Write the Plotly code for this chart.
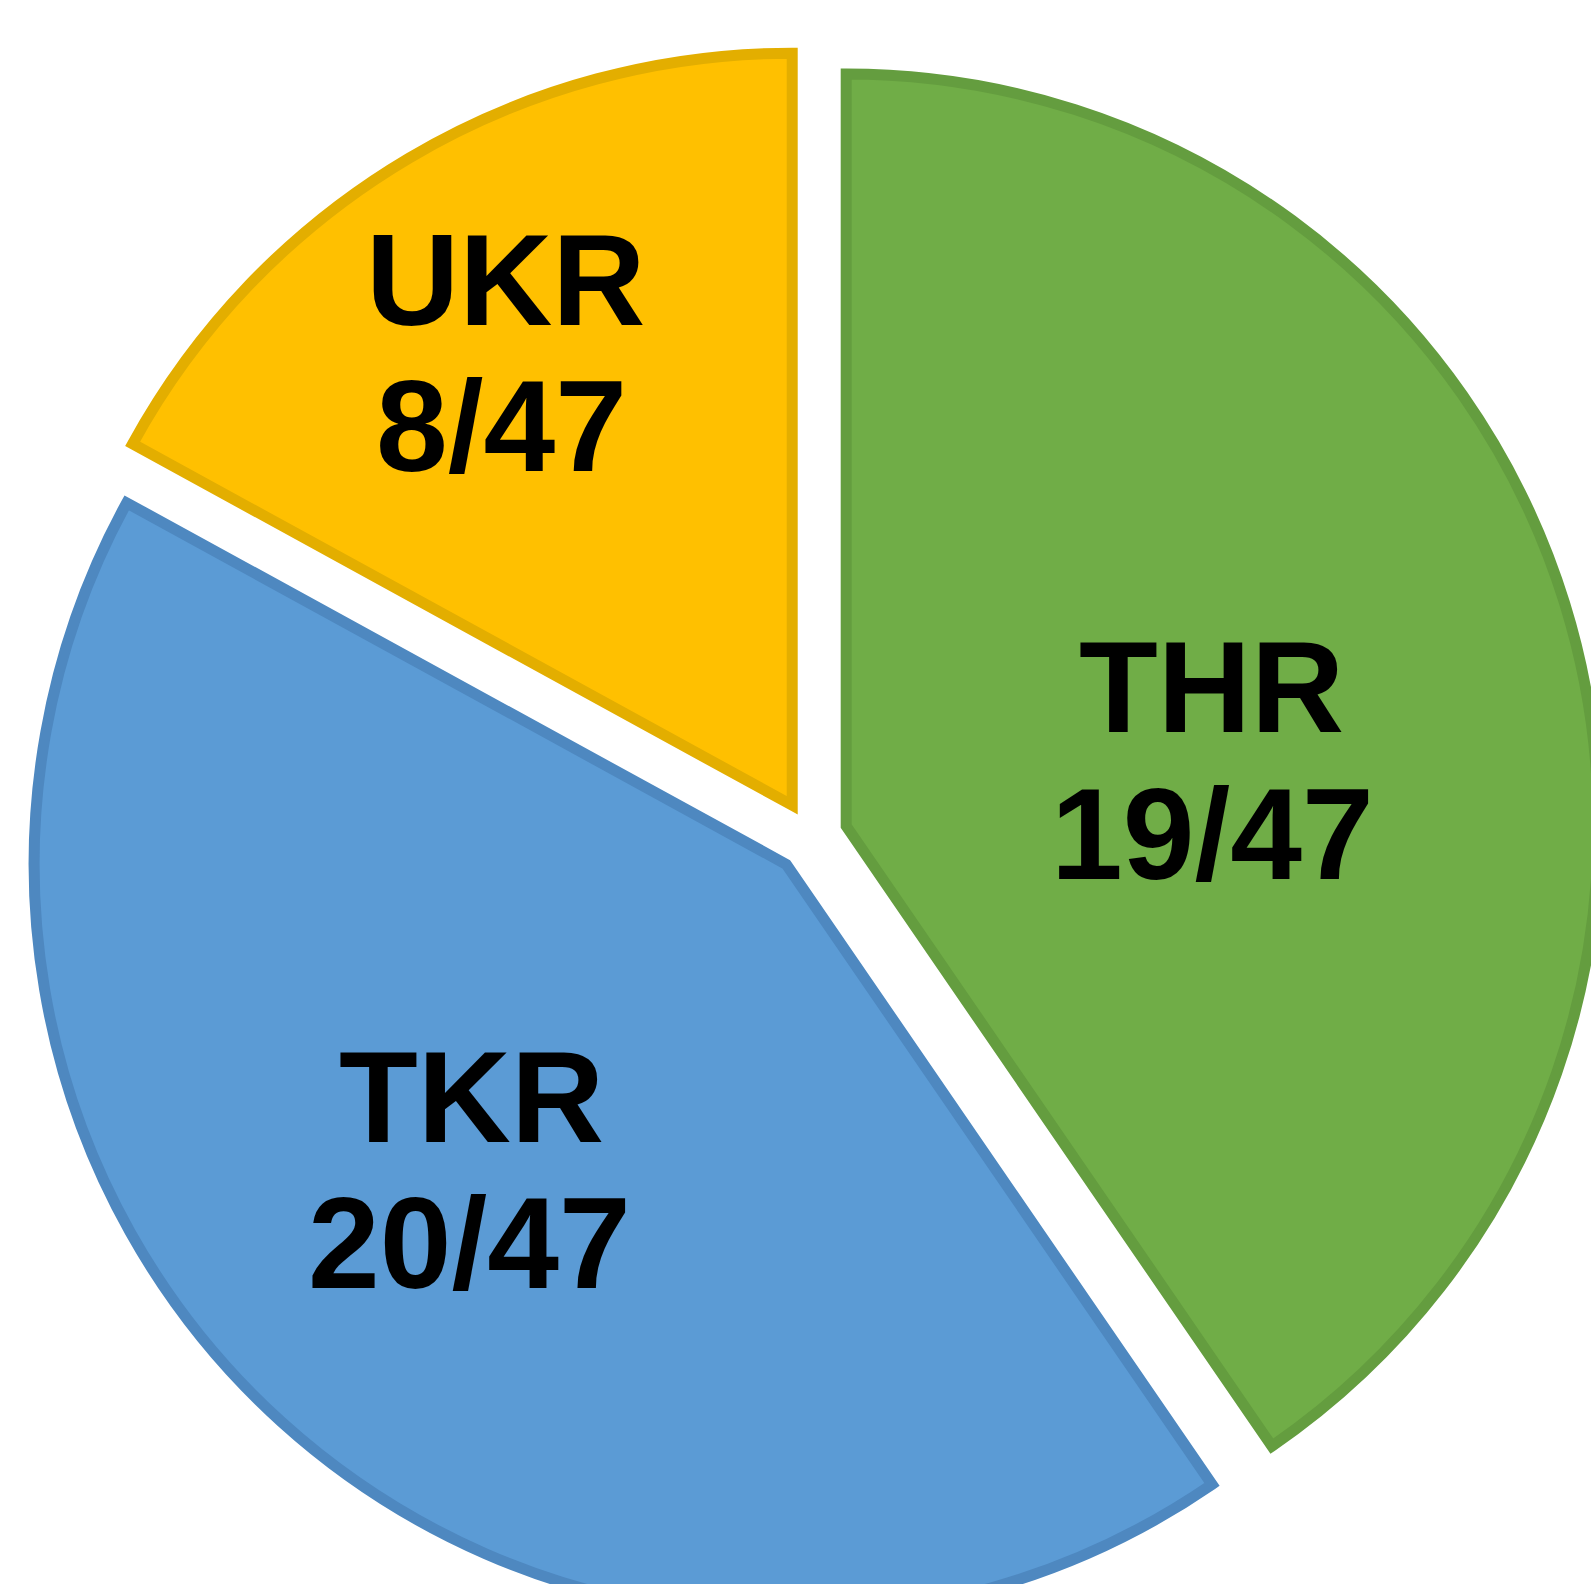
import plotly.graph_objects as go

# ---- data ----
labels = ["THR", "TKR", "UKR"]
values = [19, 20, 8]
total = sum(values)

fill_colors = ["#70AD47", "#5B9BD5", "#FFC000"]
line_colors = ["#649D3F", "#4E88C0", "#E3AE00"]

# label anchor positions (pixel coords of each text line centre: name, fraction)
name_pos = [(1211, 687), (472, 1097), (506, 280)]
frac_pos = [(1212, 834), (470, 1243), (502, 426)]

# ---- layout geometry ----
PULL = 0.049
R = 752
CX, CY = 811, 837
HALF = R * (1 + PULL)
ML, MT = CX - HALF, CY - HALF
PW = PH = 2 * HALF
W, H = int(round(ML + PW)), int(round(MT + PH))

fig = go.Figure(
    go.Pie(
        labels=labels,
        values=values,
        sort=False,
        direction="clockwise",
        rotation=0,
        pull=[PULL] * len(values),
        marker=dict(colors=fill_colors, line=dict(color=line_colors, width=11)),
        textinfo="none",
        hoverinfo="skip",
        showlegend=False,
    )
)

def to_paper(px, py):
    return (px - ML) / PW, 1 - (py - MT) / PH

font = dict(family="Liberation Sans, Arial, sans-serif", size=129, color="#000000")
annotations = []
for lab, v, npos, fpos in zip(labels, values, name_pos, frac_pos):
    for txt, pos in ((lab, npos), (f"{v}/{total}", fpos)):
        x, y = to_paper(*pos)
        annotations.append(dict(
            text=f"<b>{txt}</b>", x=x, y=y, xref="paper", yref="paper",
            xanchor="center", yanchor="middle", showarrow=False, font=font,
        ))

fig.update_layout(
    width=W, height=H,
    margin=dict(l=ML, t=MT, r=W - ML - PW, b=H - MT - PH, pad=0),
    paper_bgcolor="white", plot_bgcolor="white",
    annotations=annotations,
)

fig.write_html(
    "out.html",
    config={"displayModeBar": False},
    post_script=(
        "document.body.style.margin='0';"
        "document.body.style.overflow='hidden';"
        "document.documentElement.style.overflow='hidden';"
        "var s=document.createElement('style');"
        "s.textContent='.slice path{stroke-linejoin:miter !important;}';"
        "document.head.appendChild(s);"
    ),
)
